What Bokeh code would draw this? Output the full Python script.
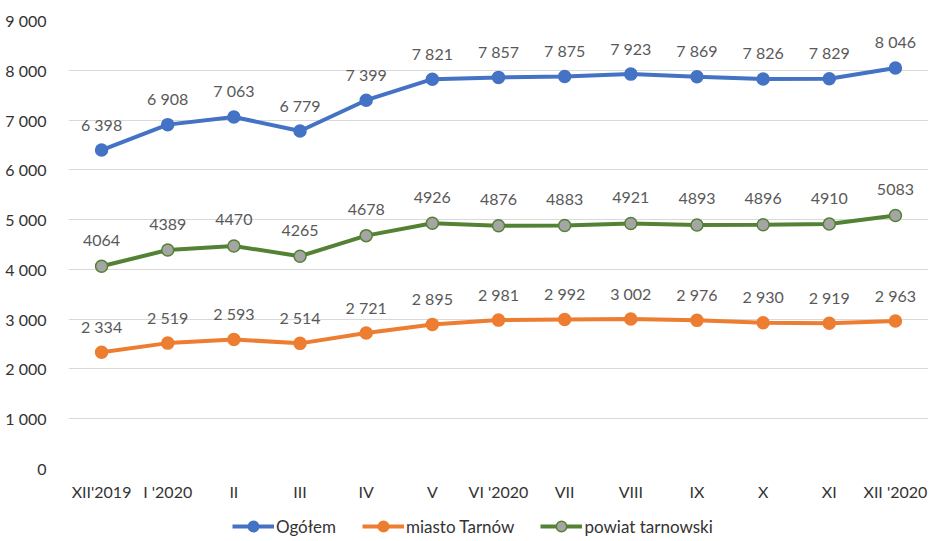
from bokeh.plotting import figure
from bokeh.layouts import column
from bokeh.models import ColumnDataSource, FactorRange, Range1d, FixedTicker, Legend, LegendItem, LabelSet
from bokeh.core.properties import value
from bokeh.embed import file_html
from bokeh.resources import INLINE

months = ["XII'2019", "I '2020", "II", "III", "IV", "V", "VI '2020", "VII", "VIII", "IX", "X", "XI", "XII '2020"]
ogolem = [6398, 6908, 7063, 6779, 7399, 7821, 7857, 7875, 7923, 7869, 7826, 7829, 8046]
miasto = [2334, 2519, 2593, 2514, 2721, 2895, 2981, 2992, 3002, 2976, 2930, 2919, 2963]
powiat = [4064, 4389, 4470, 4265, 4678, 4926, 4876, 4883, 4921, 4893, 4896, 4910, 5083]
y_ticks = [0, 1000, 2000, 3000, 4000, 5000, 6000, 7000, 8000, 9000]

def spaced(v):
    return f"{v:,}".replace(",", " ")

FONT = "Lato"

p = figure(frame_width=860, frame_height=448, x_range=FactorRange(*months), y_range=Range1d(0, 9000),
           output_backend="svg", toolbar_location=None,
           min_border_left=68, min_border_right=0, min_border_top=20, min_border_bottom=44)
p.outline_line_color = None
p.background_fill_color = "white"
p.border_fill_color = "white"

p.xgrid.grid_line_color = None
p.ygrid.grid_line_color = "#D9D9D9"
p.ygrid.grid_line_width = 1
p.yaxis.ticker = FixedTicker(ticks=y_ticks)
p.yaxis.major_label_overrides = {t: spaced(t) for t in y_ticks}
for ax in (p.xaxis[0], p.yaxis[0]):
    ax.axis_line_color = None
    ax.major_tick_line_color = None
    ax.minor_tick_line_color = None
    ax.major_label_text_font = FONT
    ax.major_label_text_color = "#333333"
p.yaxis.major_label_text_font_size = "16px"
p.xaxis.major_label_text_font_size = "16px"
p.yaxis.major_label_standoff = 16
p.xaxis.major_label_standoff = 7

# legend-only figure below the chart
lg = figure(width=928, height=28, x_range=Range1d(0, 1), y_range=Range1d(0, 1),
            output_backend="svg", toolbar_location=None,
            x_axis_location=None, y_axis_location=None,
            min_border_left=0, min_border_right=0, min_border_top=0, min_border_bottom=0)
lg.outline_line_color = None
lg.xgrid.grid_line_color = None
lg.ygrid.grid_line_color = None

series = [
    ("Ogółem", ogolem, "#4472C4", "#4472C4", "#4472C4", True),
    ("miasto Tarnów", miasto, "#ED7D31", "#ED7D31", "#ED7D31", True),
    ("powiat tarnowski", powiat, "#548235", "#A5A5A5", "#548235", False),
]
items = []
for name, vals, lc, fc, oc, sp in series:
    src = ColumnDataSource(dict(x=months, y=vals,
                                lbl=[spaced(v) if sp else str(v) for v in vals]))
    p.line("x", "y", source=src, line_color=lc, line_width=4)
    p.scatter("x", "y", source=src, size=12, fill_color=fc, line_color=oc, line_width=1.5)
    labels = LabelSet(x="x", y="y", text="lbl", source=src, y_offset=26, text_align="center",
                      text_baseline="middle", text_font=value(FONT), text_font_size="16px",
                      text_color="#595959")
    p.add_layout(labels)
    # off-screen proxies, used only for the legend icons
    proxy = ColumnDataSource(dict(x=[-5, -4], y=[-5, -5]))
    l1 = lg.line("x", "y", source=proxy, line_color=lc, line_width=4)
    l2 = lg.scatter("x", "y", source=proxy, size=12, fill_color=fc, line_color=oc, line_width=1.5)
    items.append(LegendItem(label=name, renderers=[l1, l2]))

legend = Legend(items=items, orientation="horizontal", location=(164, 1),
                label_text_font=FONT, label_text_font_size="17px", label_text_color="#333333",
                glyph_width=42, glyph_height=26, label_height=18, spacing=26, label_standoff=2,
                border_line_color=None, background_fill_alpha=0, padding=0, margin=0)
lg.add_layout(legend)

layout = column(p, lg, spacing=0)
open("out.html", "w").write(file_html(layout, INLINE))
